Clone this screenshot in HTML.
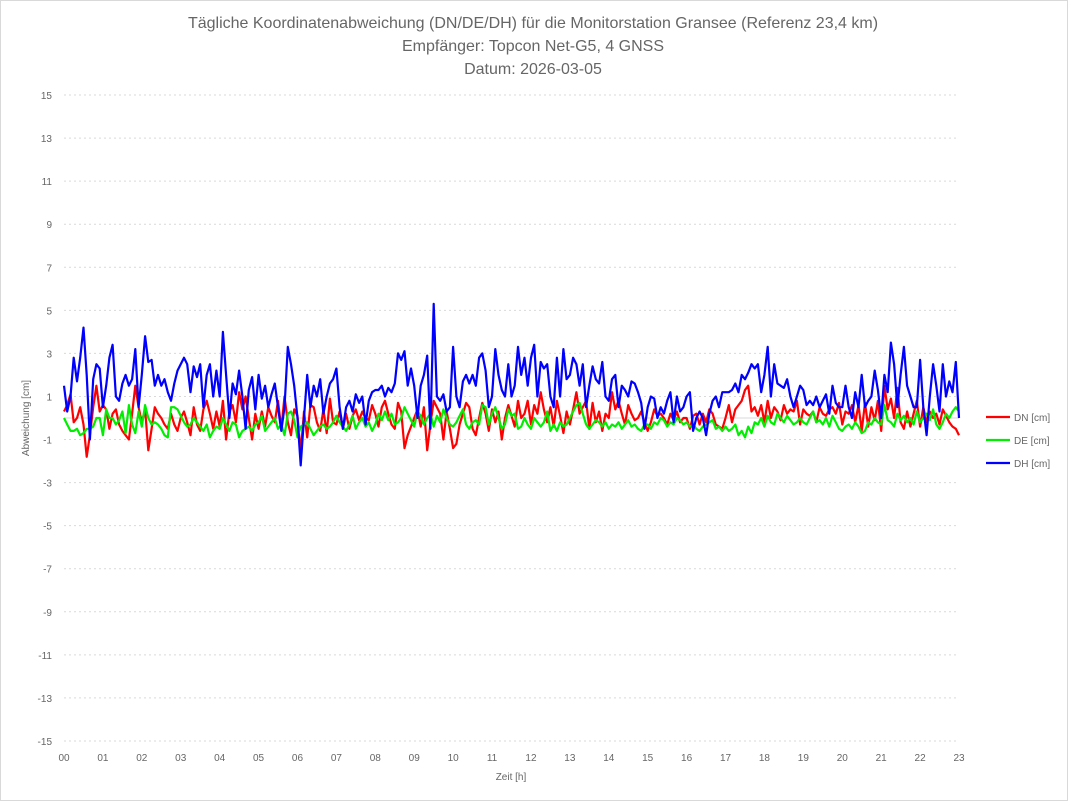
<!DOCTYPE html>
<html><head><meta charset="utf-8"><style>
body{margin:0;background:#fff;}
svg{display:block;font-family:"Liberation Sans",sans-serif;}
</style></head><body>
<svg id="chart" width="1068" height="801">
<rect x="0.5" y="0.5" width="1067" height="800" fill="#fff" stroke="#d9d9d9"/>
<g fill="#666" text-anchor="middle" font-size="16">
<text x="533" y="28">Tägliche Koordinatenabweichung (DN/DE/DH) für die Monitorstation Gransee (Referenz 23,4 km)</text>
<text x="533" y="51">Empfänger: Topcon Net-G5, 4 GNSS</text>
<text x="533" y="74">Datum: 2026-03-05</text>
</g>
<g id="grid"></g><g id="yt"></g><g id="xt"></g><g id="series"></g>
<text x="29" y="418" transform="rotate(-90 29 418)" text-anchor="middle" font-size="10" fill="#666">Abweichung [cm]</text>
<text x="511" y="780" text-anchor="middle" font-size="10" fill="#666">Zeit [h]</text>
<g id="legend"></g>
</svg>
<script>
const yTicks=[15,13,11,9,7,5,3,1,-1,-3,-5,-7,-9,-11,-13,-15];
const xLabels=["00","01","02","03","04","05","06","07","08","09","10","11","12","13","14","15","16","17","18","19","20","21","22","23"];
const seriesNames=["DN [cm]","DE [cm]","DH [cm]"];
const dh=[1.5,0.3,1.0,2.8,1.7,2.8,4.2,2.0,-1.0,1.8,2.5,2.3,
0.5,1.5,2.8,3.4,1.0,0.8,1.6,2.0,1.5,1.8,3.2,0.5,
2.0,3.8,2.6,2.7,1.5,2.0,1.5,1.8,1.2,0.8,1.6,2.2,
2.5,2.8,2.5,1.2,2.4,1.9,2.5,0.5,2.0,2.5,1.0,2.2,
1.0,4.0,2.0,0.0,1.6,1.1,2.2,1.0,-0.5,1.3,1.9,0.4,
2.0,0.9,1.5,0.5,1.1,1.6,0.5,-0.6,0.5,3.3,2.5,1.5,
0.0,-2.2,0.0,2.0,0.5,1.5,1.0,1.8,0.2,1.0,1.6,1.8,
2.3,0.5,-0.5,0.5,0.8,0.3,1.1,0.7,1.0,-0.3,0.8,1.2,
1.3,1.3,1.5,1.0,1.4,1.2,1.6,3.0,2.7,3.1,1.5,2.3,
1.5,0.0,1.5,2.0,2.9,-0.5,5.3,1.0,0.8,1.1,0.3,0.5,
3.3,1.0,0.5,1.7,2.0,1.6,2.0,1.5,2.8,3.0,2.2,0.5,
1.0,3.2,2.0,1.3,1.0,2.5,1.0,1.5,3.3,2.0,2.8,1.5,
2.8,3.4,1.0,2.6,2.3,2.5,1.0,0.5,2.8,1.0,3.2,1.8,
2.0,2.8,2.5,1.5,2.5,0.5,1.5,2.4,1.8,1.6,2.6,1.0,
0.8,1.8,2.0,0.5,1.5,1.3,1.0,1.7,1.6,1.2,0.7,-0.5,
0.5,1.0,0.9,0.0,0.5,0.2,0.8,1.2,-0.2,1.0,0.3,0.5,
1.0,1.2,-0.6,0.0,0.3,0.0,-0.8,0.2,0.8,1.0,0.5,1.2,
1.2,1.2,1.3,1.6,1.2,2.0,1.8,2.1,2.5,2.3,2.5,1.2,
2.0,3.3,1.0,2.5,1.6,1.5,1.4,1.8,1.0,0.5,1.0,1.5,
1.3,0.6,0.8,0.6,1.0,0.5,0.8,1.1,0.2,1.5,0.7,0.5,
0.5,1.5,0.5,0.0,1.2,0.5,2.0,0.5,0.8,1.0,2.2,1.3,
0.0,2.0,1.2,3.5,2.5,0.5,2.0,3.3,1.5,1.0,0.5,0.5,
2.7,0.5,-0.8,1.0,2.5,1.5,0.3,2.5,1.0,1.7,1.2,2.6,
0.0];
const dn=[0.3,0.6,1.1,-0.2,0.0,0.5,-0.3,-1.8,-0.8,0.5,1.5,0.3,
0.6,0.4,-0.5,0.2,0.4,-0.3,-0.6,-0.8,-1.0,0.2,1.5,0.5,
-0.2,0.4,-1.5,-0.5,0.5,0.2,0.0,-0.3,-0.5,0.2,-0.3,-0.6,
0.0,0.3,-0.2,-0.8,0.5,-0.3,-0.6,0.4,0.8,0.2,-0.5,0.3,
-0.4,0.8,-1.0,0.3,0.6,-0.2,1.2,0.4,1.0,0.0,-1.0,0.2,
-0.5,0.3,-0.4,0.5,0.1,-0.2,0.8,-0.5,1.0,-0.2,-0.8,0.4,
0.1,-1.6,0.3,-0.9,0.6,0.5,-0.2,-0.6,0.4,-0.7,0.9,-0.2,
-0.3,0.3,-0.5,0.2,-0.5,0.1,0.4,-0.1,0.3,0.0,-0.1,0.6,
0.2,-0.4,0.5,0.8,0.2,-0.3,-0.5,0.7,0.3,-1.4,-0.8,-0.4,
0.0,0.4,-0.4,0.5,-1.5,-0.3,0.8,0.5,0.2,-1.0,0.3,-0.5,
-1.4,-1.2,-0.3,0.2,0.7,0.5,-0.5,-0.8,0.0,0.7,0.2,-0.6,
0.4,-0.2,0.3,-1.0,0.0,0.6,0.1,-0.4,0.8,0.0,0.2,0.8,
-0.3,0.6,0.2,1.2,0.4,-0.2,0.5,-0.4,0.8,0.1,-0.7,0.3,
-0.3,0.4,1.2,0.2,0.5,0.8,-0.5,0.7,-0.2,0.3,-0.6,0.2,
0.0,1.2,0.4,0.8,0.2,-0.3,0.6,0.2,-0.1,0.0,0.3,-0.2,
-0.6,-0.2,0.4,0.1,0.2,0.0,-0.3,0.2,-0.1,0.3,-0.2,0.0,
0.0,-0.5,0.1,0.2,-0.3,0.2,-0.2,0.4,0.2,-0.3,-0.4,-0.5,
0.0,0.6,-0.2,0.4,0.6,0.8,1.3,1.5,0.3,0.5,0.1,0.6,
-0.2,0.8,0.0,0.5,0.3,-0.1,0.6,0.2,0.4,0.3,0.8,-0.3,
0.4,0.2,0.1,0.3,-0.2,0.5,0.2,0.1,0.4,0.5,0.2,0.7,
-0.3,0.3,0.2,0.6,-0.2,0.6,-0.6,0.7,-0.4,0.5,-0.1,0.8,
-0.6,1.5,0.4,0.9,0.0,1.4,-0.2,-0.5,0.3,-0.4,0.2,0.8,
-0.4,0.5,-0.2,0.3,0.0,0.2,-0.3,0.4,0.1,-0.2,-0.4,-0.5,
-0.8];
const de=[0.0,-0.3,-0.6,-0.6,-0.5,-0.8,-0.7,-0.5,-0.5,-0.4,0.0,0.0,
-0.8,0.4,0.0,0.0,-0.3,-0.1,0.3,-0.7,0.6,-0.3,-0.7,0.3,
-0.4,0.6,0.0,-0.3,-0.2,-0.3,-0.5,-0.8,-0.9,0.5,0.5,0.4,
0.1,-0.2,-0.4,-0.3,0.0,-0.2,-0.4,-0.6,-0.3,-0.9,-0.6,-0.4,
-0.5,0.0,-0.3,-0.6,-0.2,-0.3,-0.9,-0.6,-0.5,-0.4,-0.6,-0.3,
-0.2,0.1,-0.6,-0.4,-0.2,0.0,-0.5,-0.3,-0.8,0.2,0.3,-0.1,
-0.9,-0.4,-0.3,-0.2,-0.5,-0.8,-0.6,-0.4,-0.3,-0.5,-0.4,-0.2,
0.1,-0.2,-0.4,-0.6,-0.3,0.1,-0.5,-0.2,0.0,-0.4,-0.2,-0.6,
-0.3,0.2,-0.1,0.3,-0.1,0.2,-0.3,-0.2,0.0,0.5,0.2,-0.1,
-0.4,0.3,0.1,-0.3,0.0,0.2,-0.4,0.1,-0.2,0.4,0.0,-0.3,
-0.4,-0.2,0.1,0.4,-0.3,-0.5,-0.2,-0.1,-0.3,0.6,0.5,-0.3,
0.2,0.5,0.0,-0.5,-0.3,0.4,0.1,0.2,-0.5,-0.4,0.0,-0.3,
-0.5,0.0,-0.2,-0.4,-0.2,0.3,-0.6,-0.3,-0.6,-0.2,-0.4,-0.3,
0.0,0.3,0.6,0.7,0.2,-0.3,-0.5,-0.3,-0.1,-0.2,-0.4,-0.2,
-0.5,-0.3,-0.4,-0.2,-0.5,-0.3,-0.1,-0.4,-0.3,-0.5,-0.6,-0.3,
-0.3,-0.5,-0.2,-0.3,0.0,-0.1,-0.4,-0.2,-0.3,0.0,-0.1,-0.3,
-0.2,-0.4,-0.3,-0.5,-0.6,-0.4,-0.3,-0.2,-0.1,-0.5,-0.4,-0.6,
-0.4,-0.6,-0.5,-0.3,-0.8,-0.6,-0.9,-0.4,-0.7,-0.2,-0.3,0.0,
-0.4,0.1,-0.2,-0.3,0.2,0.0,-0.2,0.1,-0.1,-0.3,-0.2,0.0,
-0.2,-0.3,0.0,0.3,-0.2,-0.1,-0.3,0.0,-0.4,0.1,-0.2,-0.5,
-0.6,-0.4,-0.3,-0.5,-0.2,-0.4,-0.7,-0.6,-0.2,-0.3,0.0,-0.2,
-0.3,0.6,-0.1,-0.2,-0.4,0.2,-0.1,0.1,-0.2,0.0,-0.3,0.3,
-0.2,0.0,0.2,-0.1,0.4,-0.3,-0.5,-0.2,0.2,0.0,0.3,0.5,
0.3];
const NS="http://www.w3.org/2000/svg";
const X0=64,X1=959,Y0=95,Y1=741;
const yS=v=>Y0+(15-v)*(Y1-Y0)/30;
const xS=h=>X0+h*(X1-X0)/23;
function mk(t,a,p){const e=document.createElementNS(NS,t);for(const k in a)e.setAttribute(k,a[k]);p.appendChild(e);return e;}
const grid=document.getElementById('grid'),yt=document.getElementById('yt'),xt=document.getElementById('xt');
yTicks.forEach(v=>{
 const l=mk('line',{x1:X0,x2:X1,y1:yS(v),y2:yS(v),stroke:'#d9d9d9','stroke-dasharray':'2,3'},grid);
 
 
 const t=mk('text',{x:52,y:yS(v)+4,'text-anchor':'end','font-size':'10',fill:'#666'},yt);
 t.textContent=v;
 
 
});
const z=mk('line',{x1:X0,x2:X1,y1:yS(0),y2:yS(0),stroke:'#d9d9d9'},grid);


xLabels.forEach((s,i)=>{
 const t=mk('text',{x:xS(i),y:761,'text-anchor':'middle','font-size':'10',fill:'#666'},xt);
 t.textContent=s;
 
 
});
const ser=document.getElementById('series');
const colors=['#ff0000','#00ee00','#0000ff'];
[dn,de,dh].forEach((arr,si)=>{
 const n=arr.length-1;
 const pts=arr.map((v,i)=>xS(i*23/n).toFixed(1)+','+yS(v).toFixed(1)).join(' ');
 const p=mk('polyline',{points:pts,fill:'none',stroke:colors[si],'stroke-width':'2.2','stroke-linejoin':'round'},ser);
 
 
});
const lg=document.getElementById('legend');
seriesNames.forEach((s,i)=>{
 const y=417+i*23;
 const l=mk('line',{x1:986,x2:1010,y1:y,y2:y,stroke:colors[i],'stroke-width':'2.2'},lg);
 
 
 const t=mk('text',{x:1014,y:y+4,'font-size':'10',fill:'#666'},lg);
 t.textContent=s;
 
 
});
</script>
</body></html>
